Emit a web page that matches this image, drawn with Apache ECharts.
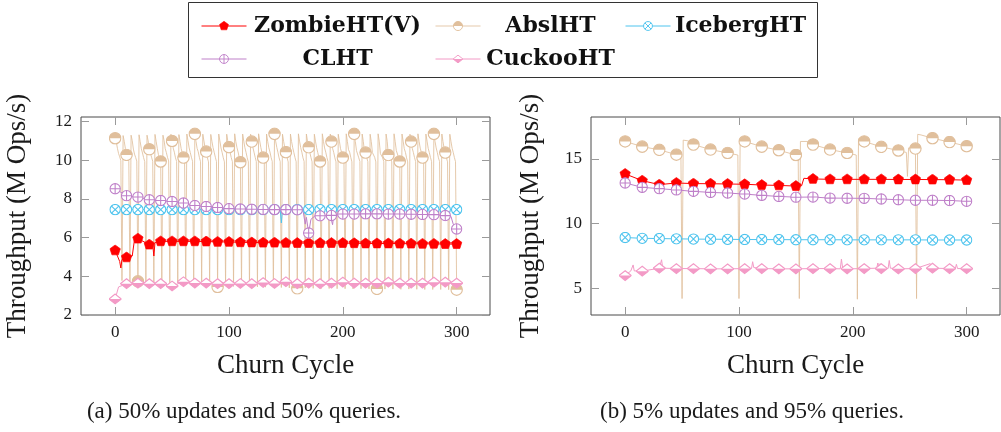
<!DOCTYPE html>
<html>
<head>
<meta charset="utf-8">
<script src="https://cdn.jsdelivr.net/npm/echarts@6/dist/echarts.min.js"></script>
<style>
  html, body { margin: 0; padding: 0; background: #ffffff; }
  #chart { width: 1001px; height: 432px; }
</style>
</head>
<body>
<div id="chart"></div>
<script>
// ---------------- data ----------------
const xTicks = [0, 100, 200, 300];
const yTicksA = [2, 4, 6, 8, 10, 12];
const yTicksB = [5, 10, 15];

// (a) 50% updates / 50% queries: marked samples every 10 churn cycles
const cyclesA = [0, 10, 20, 30, 40, 50, 60, 70, 80, 90, 100, 110, 120, 130, 140, 150,
                 160, 170, 180, 190, 200, 210, 220, 230, 240, 250, 260, 270, 280, 290, 300];
const zombieA = [5.34, 4.98, 5.95, 5.64, 5.81, 5.81, 5.81, 5.81, 5.80, 5.78, 5.78, 5.76, 5.75, 5.74, 5.74, 5.73,
                 5.72, 5.72, 5.72, 5.72, 5.72, 5.71, 5.70, 5.70, 5.70, 5.69, 5.69, 5.68, 5.68, 5.67, 5.67];
const icebergA = [7.45, 7.45, 7.45, 7.45, 7.45, 7.45, 7.45, 7.45, 7.45, 7.45, 7.45, 7.45, 7.45, 7.45, 7.45, 7.45,
                  7.45, 7.45, 7.45, 7.45, 7.45, 7.45, 7.45, 7.45, 7.45, 7.45, 7.45, 7.45, 7.45, 7.45, 7.45];
const clhtA = [8.53, 8.17, 8.10, 7.96, 7.92, 7.87, 7.79, 7.66, 7.61, 7.56, 7.50, 7.48, 7.47, 7.46, 7.45, 7.45,
               7.44, 6.24, 7.13, 7.15, 7.22, 7.22, 7.23, 7.23, 7.22, 7.22, 7.21, 7.20, 7.19, 7.14, 6.45];
const cuckooA = [2.83, 3.62, 3.65, 3.62, 3.62, 3.50, 3.72, 3.65, 3.65, 3.62, 3.62, 3.63, 3.62, 3.68, 3.63, 3.72,
                 3.62, 3.65, 3.62, 3.65, 3.70, 3.65, 3.65, 3.65, 3.70, 3.65, 3.65, 3.65, 3.70, 3.70, 3.65];
// AbslHT measured at every churn cycle 0..300 (rows of 7 cycles)
const abslA = [
  11.14, 10.95, 10.62, 10.35, 10.18, 9.98, 3.78,
  11.28, 10.98, 10.60, 10.28, 10.12, 9.95, 3.75,
  11.30, 11.02, 10.58, 10.32, 10.15, 9.96, 3.74,
  11.32, 10.96, 10.60, 10.38, 10.14, 9.93, 3.72,
  11.30, 11.00, 10.57, 10.35, 10.16, 9.95, 3.70,
  11.34, 10.98, 10.62, 10.30, 10.12, 9.94, 3.70,
  11.30, 11.02, 10.60, 10.40, 10.15, 9.97, 3.66,
  11.35, 11.00, 10.63, 10.42, 10.13, 9.94, 3.65,
  11.33, 10.97, 10.60, 10.38, 10.14, 9.92, 3.62,
  11.36, 11.01, 10.64, 10.40, 10.16, 9.95, 3.60,
  11.37, 10.98, 10.62, 10.44, 10.15, 9.93, 3.58,
  11.35, 11.00, 10.65, 10.45, 10.14, 9.92, 3.55,
  11.34, 10.99, 10.66, 10.42, 10.16, 9.94, 3.45,
  11.36, 11.00, 10.64, 10.40, 10.13, 9.92, 3.50,
  11.35, 10.98, 10.68, 10.42, 10.14, 9.93, 3.48,
  11.37, 10.97, 10.66, 10.43, 10.15, 9.90, 3.47,
  11.36, 10.99, 10.65, 10.41, 10.13, 9.92, 3.46,
  11.35, 10.97, 10.67, 10.42, 10.16, 9.93, 3.45,
  11.37, 11.00, 10.66, 10.40, 10.14, 9.92, 3.44,
  11.36, 10.98, 10.65, 10.43, 10.15, 9.94, 3.42,
  11.37, 10.99, 10.67, 10.41, 10.13, 9.93, 3.42,
  11.35, 10.98, 10.66, 10.42, 10.15, 9.92, 3.40,
  11.36, 10.97, 10.65, 10.40, 10.14, 9.93, 3.38,
  11.37, 10.99, 10.66, 10.42, 10.13, 9.94, 3.40,
  11.36, 10.98, 10.67, 10.41, 10.15, 9.92, 3.38,
  11.35, 10.99, 10.65, 10.40, 10.14, 9.94, 3.37,
  11.37, 10.98, 10.64, 10.42, 10.15, 9.93, 3.37,
  11.36, 10.97, 10.62, 10.41, 10.13, 9.92, 3.36,
  11.35, 10.99, 10.60, 10.40, 10.14, 9.93, 3.36,
  11.37, 10.98, 10.55, 10.42, 10.15, 9.92, 3.35,
  11.37, 10.97, 10.50, 10.41, 10.13, 9.94, 3.36,
  11.36, 10.98, 10.45, 10.40, 10.14, 9.93, 3.35,
  11.35, 10.97, 10.40, 10.38, 10.15, 9.92, 3.35,
  11.37, 10.99, 10.35, 10.36, 10.13, 9.93, 3.34,
  11.36, 10.98, 10.27, 10.38, 10.14, 9.92, 3.34,
  11.37, 10.97, 10.50, 10.40, 10.15, 9.94, 3.33,
  11.36, 10.99, 10.60, 10.41, 10.13, 9.92, 3.34,
  11.35, 10.97, 10.62, 10.40, 10.14, 9.93, 3.33,
  11.37, 10.98, 10.63, 10.41, 10.14, 9.92, 3.32,
  11.36, 10.99, 10.62, 10.40, 10.15, 9.93, 3.32,
  11.37, 10.98, 10.64, 10.41, 10.13, 9.94, 3.32,
  11.36, 10.97, 10.62, 10.40, 10.14, 9.92, 3.31,
  11.35, 10.98, 10.63, 10.41, 10.15, 9.93, 3.31
];
// in-between readings of the traces, [cycle, value]
const zombieAExtra = [[4, 4.77], [5, 4.43], [6, 4.87], [15, 5.05], [17, 5.90], [33, 5.64], [34, 5.05], [35, 5.75]];
const icebergAExtra = [[145, 7.45], [146, 6.76], [147, 7.45]];
const clhtAExtra = [[165, 7.42], [167, 6.70], [168, 7.05], [172, 6.95], [175, 7.10],
                    [189, 7.15], [191, 6.67], [192, 7.15], [295, 7.10], [297, 6.70]];
const cuckooAExtra = [[3, 3.45]];

// (b) 5% updates / 95% queries: marked samples every 15 churn cycles
const cyclesB = [0, 15, 30, 45, 60, 75, 90, 105, 120, 135, 150, 165, 180, 195, 210, 225, 240, 255, 270, 285, 300];
const zombieB = [13.84, 13.32, 13.01, 13.14, 13.09, 13.08, 13.06, 13.04, 12.98, 12.95, 12.90,
                 13.45, 13.42, 13.42, 13.42, 13.42, 13.41, 13.41, 13.40, 13.39, 13.36];
const abslB = [16.35, 15.95, 15.70, 15.33, 16.11, 15.72, 15.46, 16.35, 15.95, 15.67, 15.30,
               16.11, 15.72, 15.46, 16.35, 15.93, 15.65, 15.80, 16.60, 16.30, 15.98];
const icebergB = [8.92, 8.86, 8.84, 8.82, 8.80, 8.79, 8.78, 8.77, 8.76, 8.76, 8.75,
                  8.75, 8.75, 8.74, 8.74, 8.74, 8.74, 8.74, 8.73, 8.73, 8.73];
const clhtB = [13.14, 12.80, 12.70, 12.60, 12.49, 12.41, 12.36, 12.28, 12.18, 12.10, 12.04,
               12.05, 11.97, 11.96, 11.95, 11.90, 11.84, 11.80, 11.80, 11.78, 11.72];
const cuckooB = [5.98, 6.32, 6.55, 6.52, 6.52, 6.50, 6.50, 6.52, 6.52, 6.50, 6.50,
                 6.52, 6.52, 6.50, 6.52, 6.52, 6.50, 6.52, 6.55, 6.52, 6.52];
const zombieBExtra = [[155, 12.92], [157, 13.50]];
const abslBExtra = [[49, 15.20], [50, 4.20], [51, 16.45], [55, 16.40],
                    [99, 15.30], [100, 4.20], [101, 16.10],
                    [152, 15.25], [153, 4.20], [154, 16.35], [160, 16.35],
                    [203, 15.30], [204, 4.15], [205, 16.55],
                    [247, 15.50], [248, 13.65], [249, 15.85], [256, 4.20], [257, 16.90], [260, 16.85]];
const cuckooBExtra = [[5, 6.34], [7, 6.80], [8, 6.34], [31, 6.55], [32, 7.20], [33, 6.55],
                      [111, 6.52], [112, 7.05], [113, 6.60], [189, 6.50], [190, 7.25], [191, 6.60],
                      [221, 6.55], [222, 6.95], [223, 6.60], [224, 6.90], [231, 6.52], [232, 7.15],
                      [233, 6.55], [268, 6.90], [290, 6.50], [291, 6.85], [292, 6.52]];

// ---------------- styling ----------------
const COLORS = {
  'ZombieHT(V)': '#ff0000',
  'AbslHT': '#e0bf9c',
  'IcebergHT': '#4ec4ee',
  'CLHT': '#bf80c9',
  'CuckooHT': '#f39ac6'
};

function svgUri(body) {
  const svg = "<svg xmlns='http://www.w3.org/2000/svg' viewBox='-11 -11 22 22' width='44' height='44'>" + body + "</svg>";
  return 'image://data:image/svg+xml;charset=utf-8,' + encodeURIComponent(svg);
}
const SW = 2.0;
const SYMBOLS = {
  'ZombieHT(V)': svgUri("<path d='M0,-10 L9.5,-3.1 L5.9,8.1 L-5.9,8.1 L-9.5,-3.1 Z' fill='#ff0000' stroke='#ff0000' stroke-width='1.2'/>"),
  'AbslHT': svgUri("<circle r='9.6' fill='#ffffff' stroke='#e0bf9c' stroke-width='" + SW + "'/><path d='M-9.6,0 A9.6,9.6 0 0 1 9.6,0 Z' fill='#e0bf9c'/>"),
  'IcebergHT': svgUri("<circle r='9.4' fill='#ffffff' stroke='#4ec4ee' stroke-width='" + SW + "'/><path d='M-6.6,-6.6 L6.6,6.6 M-6.6,6.6 L6.6,-6.6' stroke='#4ec4ee' stroke-width='" + SW + "'/>"),
  'CLHT': svgUri("<circle r='9.4' fill='#ffffff' stroke='#bf80c9' stroke-width='" + SW + "'/><path d='M-9.4,0 L9.4,0 M0,-9.4 L0,9.4' stroke='#bf80c9' stroke-width='" + SW + "'/>"),
  'CuckooHT': svgUri("<path d='M0,-8.2 L10.4,0 L0,8.2 L-10.4,0 Z' fill='#ffffff' stroke='#f39ac6' stroke-width='" + SW + "'/><path d='M-10.4,0 L10.4,0 L0,8.2 Z' fill='#f39ac6'/>")
};
const SIZES = {
  'ZombieHT(V)': 12, 'AbslHT': 13, 'IcebergHT': 12, 'CLHT': 12, 'CuckooHT': 13
};

// merge marked samples with in-between readings into one ordered trace
function trace(cycles, values, extra) {
  const pts = cycles.map((c, i) => ({ value: [c, values[i]] }));
  (extra || []).forEach(p => pts.push({ value: [p[0], p[1]], symbol: 'none' }));
  pts.sort((a, b) => a.value[0] - b.value[0]);
  return pts;
}
// per-cycle trace with a marker on every `step`-th cycle
function denseTrace(values, step) {
  return values.map((v, c) => (c % step === 0) ? { value: [c, v] } : { value: [c, v], symbol: 'none' });
}

function makeSeries(name, data, panel) {
  const c = COLORS[name];
  return {
    name: name,
    type: 'line',
    xAxisIndex: panel * 2,
    yAxisIndex: panel * 2,
    data: data,
    symbol: SYMBOLS[name],
    symbolSize: SIZES[name],
    showAllSymbol: true,
    lineStyle: { color: c, width: 1, opacity: name === 'AbslHT' ? 0.85 : 1 },
    itemStyle: { color: c },
    emphasis: { disabled: true },
    animation: false
  };
}

const SERIF = 'Liberation Serif, Times New Roman, serif';
const tickLabel = { fontFamily: SERIF, fontSize: 17, color: '#1a1a1a' };
const axisNameStyle = { fontFamily: SERIF, fontSize: 27, color: '#1a1a1a' };
const TICK = { color: '#9a9a9a', width: 1 };
const NO_LINE = { show: false, onZero: false };

function xAxes(grid) {
  const common = {
    gridIndex: grid, type: 'value', min: -30, max: 329.3,
    axisLine: NO_LINE, splitLine: { show: false },
    axisTick: { inside: true, length: 8, customValues: xTicks, lineStyle: TICK }
  };
  return [
    Object.assign({}, common, {
      position: 'bottom',
      axisLabel: Object.assign({ customValues: xTicks, margin: 9 }, tickLabel),
      name: 'Churn Cycle', nameLocation: 'middle', nameGap: 37, nameTextStyle: axisNameStyle
    }),
    Object.assign({}, common, { position: 'top', axisLabel: { show: false } })
  ];
}
function yAxes(grid, min, max, ticks, gap) {
  const common = {
    gridIndex: grid, type: 'value', min: min, max: max,
    axisLine: NO_LINE, splitLine: { show: false },
    axisTick: { inside: true, length: 8, customValues: ticks, lineStyle: TICK }
  };
  return [
    Object.assign({}, common, {
      position: 'left',
      axisLabel: Object.assign({ customValues: ticks, margin: 9 }, tickLabel),
      name: 'Throughput (M Ops/s)', nameLocation: 'middle', nameGap: gap, nameTextStyle: axisNameStyle
    }),
    Object.assign({}, common, { position: 'right', axisLabel: { show: false } })
  ];
}

const legendText = {
  fontFamily: 'DejaVu Serif, serif', fontWeight: 'bold', fontSize: 22, color: '#111111'
};
function legendColumn(left, names, textWidth) {
  return {
    orient: 'vertical', left: left, top: 10,
    itemWidth: 45, itemHeight: 13, itemGap: 11,
    selectedMode: false,
    data: names,
    lineStyle: { width: 1 },
    formatter: '{t|{name}}',
    textStyle: Object.assign({}, legendText, {
      rich: { t: Object.assign({ width: textWidth, align: 'center', lineHeight: 26 }, legendText) }
    })
  };
}

const order = ['AbslHT', 'ZombieHT(V)', 'IcebergHT', 'CLHT', 'CuckooHT'];
const panelA = {
  'ZombieHT(V)': trace(cyclesA, zombieA, zombieAExtra),
  'AbslHT': denseTrace(abslA, 10),
  'IcebergHT': trace(cyclesA, icebergA, icebergAExtra),
  'CLHT': trace(cyclesA, clhtA, clhtAExtra),
  'CuckooHT': trace(cyclesA, cuckooA, cuckooAExtra)
};
const panelB = {
  'ZombieHT(V)': trace(cyclesB, zombieB, zombieBExtra),
  'AbslHT': trace(cyclesB, abslB, abslBExtra),
  'IcebergHT': trace(cyclesB, icebergB, []),
  'CLHT': trace(cyclesB, clhtB, []),
  'CuckooHT': trace(cyclesB, cuckooB, cuckooBExtra)
};

const series = [];
order.forEach(n => series.push(makeSeries(n, panelA[n], 0)));
order.forEach(n => series.push(makeSeries(n, panelB[n], 1)));

const option = {
  animation: false,
  backgroundColor: '#ffffff',
  grid: [
    { left: 81, top: 117, width: 409, height: 198, show: true, borderColor: '#4a4a4a', borderWidth: 1, backgroundColor: 'transparent' },
    { left: 591, top: 117, width: 409, height: 198, show: true, borderColor: '#4a4a4a', borderWidth: 1, backgroundColor: 'transparent' }
  ],
  xAxis: xAxes(0).concat(xAxes(1)),
  yAxis: yAxes(0, 2, 12.24, yTicksA, 50).concat(yAxes(1, 2.93, 18.24, yTicksB, 47)),
  legend: [
    legendColumn(196, ['ZombieHT(V)', 'CLHT'], 172),
    legendColumn(430, ['AbslHT', 'CuckooHT'], 130),
    legendColumn(620, ['IcebergHT'], 130)
  ],
  graphic: [
    { type: 'rect', shape: { x: 188.5, y: 2.5, width: 629, height: 75 },
      style: { fill: 'none', stroke: '#333333', lineWidth: 1 }, silent: true, z: 100 },
    { type: 'text', x: 244, y: 412,
      style: { text: '(a) 50% updates and 50% queries.', fontFamily: SERIF, fontSize: 23, fill: '#1a1a1a',
               textAlign: 'center', textVerticalAlign: 'middle' } },
    { type: 'text', x: 752, y: 412,
      style: { text: '(b) 5% updates and 95% queries.', fontFamily: SERIF, fontSize: 23, fill: '#1a1a1a',
               textAlign: 'center', textVerticalAlign: 'middle' } }
  ],
  series: series
};

const chart = echarts.init(document.getElementById('chart'), null, { renderer: 'canvas' });
chart.setOption(option);
</script>
</body>
</html>
